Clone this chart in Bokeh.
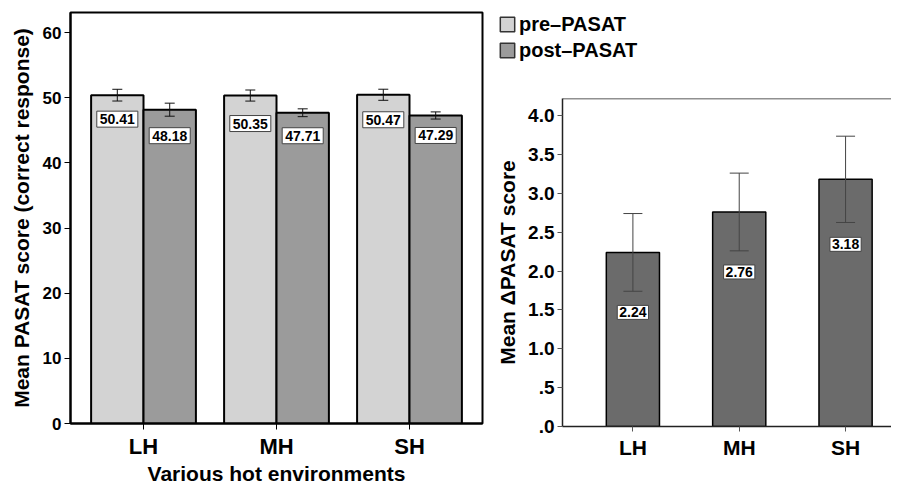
import numpy as np
from bokeh.plotting import figure
from bokeh.models import (ColumnDataSource, Range1d, FixedTicker, Whisker, TeeHead,
                          Legend, LegendItem, Span)
from bokeh.core.properties import value
from bokeh.layouts import row, column
from bokeh.embed import file_html
from bokeh.resources import INLINE

# ---------------- data ----------------
categories = ["LH", "MH", "SH"]
pre_mean = [50.41, 50.35, 50.47]
pre_err = [0.90, 0.85, 0.85]
post_mean = [48.18, 47.71, 47.29]
post_err = [1.00, 0.60, 0.55]
delta_mean = [2.24, 2.76, 3.18]
delta_err = [0.50, 0.50, 0.555]
left_ticks = [0, 10, 20, 30, 40, 50, 60]
right_ticks = [0.0, 0.5, 1.0, 1.5, 2.0, 2.5, 3.0, 3.5, 4.0]
right_tick_labels = [".0", ".5", "1.0", "1.5", "2.0", "2.5", "3.0", "3.5", "4.0"]
series_names = ["pre\u2013PASAT", "post\u2013PASAT"]

# ---------------- styles ----------------
FONT = "Liberation Sans"
PRE_COLOR = "#d3d3d3"
POST_COLOR = "#9b9b9b"
DELTA_COLOR = "#6b6b6b"
pre_label_dy = [24, 28, 25]      # px below bar top (label centre)
post_label_dy = [26, 23, 20]
delta_label_dy = [60, 60, 65]
DODGE = 0.197
BAR_W = 0.394

xpos = np.arange(1, len(categories) + 1)


def style_axis(ax, line_w, line_c, tick_out, tick_c):
    ax.axis_line_width = line_w
    ax.axis_line_color = line_c
    ax.major_tick_in = 0
    ax.major_tick_out = tick_out
    ax.major_tick_line_color = tick_c
    ax.major_tick_line_width = 1
    ax.minor_tick_line_color = None
    ax.major_label_text_font = FONT
    ax.major_label_text_font_style = "bold"
    ax.major_label_text_color = "black"
    ax.axis_label_text_font = FONT
    ax.axis_label_text_font_style = "bold"
    ax.axis_label_text_color = "black"


# ---------------- left chart ----------------
p1 = figure(width=484, height=487, output_backend="svg", toolbar_location=None,
            x_range=Range1d(0.451, 3.549), y_range=Range1d(0, 63.1),
            min_border_left=70, min_border_right=2, min_border_top=12, min_border_bottom=62)
p1.grid.visible = False
p1.outline_line_color = "black"
p1.outline_line_width = 2

pre_src = ColumnDataSource(dict(
    x=xpos - DODGE, top=pre_mean,
    upper=[m + e for m, e in zip(pre_mean, pre_err)],
    lower=[m - e for m, e in zip(pre_mean, pre_err)],
    text=["%.2f" % v for v in pre_mean], dy=pre_label_dy))
post_src = ColumnDataSource(dict(
    x=xpos + DODGE, top=post_mean,
    upper=[m + e for m, e in zip(post_mean, post_err)],
    lower=[m - e for m, e in zip(post_mean, post_err)],
    text=["%.2f" % v for v in post_mean], dy=post_label_dy))

p1.vbar(x="x", top="top", width=BAR_W, source=pre_src,
        fill_color=PRE_COLOR, line_color="black", line_width=2)
p1.vbar(x="x", top="top", width=BAR_W, source=post_src,
        fill_color=POST_COLOR, line_color="black", line_width=2)

for src in (pre_src, post_src):
    p1.add_layout(Whisker(base="x", upper="upper", lower="lower", source=src, level="overlay",
                          line_color="#111111", line_width=1,
                          upper_head=TeeHead(size=10, line_color="#111111", line_width=1),
                          lower_head=TeeHead(size=10, line_color="#111111", line_width=1)))
    p1.text(x="x", y="top", text="text", y_offset="dy", source=src, level="overlay",
            text_align="center", text_baseline="middle",
            text_font=value(FONT), text_font_size="14px", text_font_style="bold",
            text_color="black", background_fill_color="white",
            border_line_color="#444444", border_line_width=1, padding=3)

p1.xaxis.ticker = FixedTicker(ticks=list(xpos))
p1.xaxis.major_label_overrides = {int(i): c for i, c in zip(xpos, categories)}
p1.yaxis.ticker = FixedTicker(ticks=left_ticks)
style_axis(p1.xaxis[0], 2, "black", 6, "black")
style_axis(p1.yaxis[0], 2, "black", 6, "black")
p1.xaxis.major_label_text_font_size = "22px"
p1.xaxis.major_label_standoff = 4
p1.xaxis.axis_label = "Various hot environments"
p1.xaxis.axis_label_text_font_size = "21px"
p1.xaxis.axis_label_standoff = 0
p1.yaxis.major_label_text_font_size = "17px"
p1.yaxis.major_label_standoff = 3
p1.yaxis.axis_label = "Mean PASAT score (correct response)"
p1.yaxis.axis_label_text_font_size = "21px"
p1.yaxis.axis_label_standoff = 7

# ---------------- legend panel ----------------
leg = figure(width=407, height=70, output_backend="svg", toolbar_location=None,
             x_axis_location=None, y_axis_location=None,
             x_range=Range1d(0, 1), y_range=Range1d(0, 1),
             min_border_left=14, min_border_top=12, min_border_right=0, min_border_bottom=0)
leg.grid.visible = False
leg.outline_line_color = None
leg_pre = leg.vbar(x="x", top="top", width=BAR_W, source=pre_src, visible=False,
                   fill_color=PRE_COLOR, line_color="#333333", line_width=1.5)
leg_post = leg.vbar(x="x", top="top", width=BAR_W, source=post_src, visible=False,
                    fill_color=POST_COLOR, line_color="#333333", line_width=1.5)
legend = Legend(items=[LegendItem(label=series_names[0], renderers=[leg_pre]),
                       LegendItem(label=series_names[1], renderers=[leg_post])],
                location="top_left", margin=0, padding=0, spacing=2,
                glyph_width=18, glyph_height=18, label_height=24, label_standoff=3,
                label_text_font=FONT, label_text_font_style="bold",
                label_text_font_size="20px", label_text_color="black",
                background_fill_alpha=0, border_line_color=None)
leg.add_layout(legend)

# ---------------- right chart ----------------
p2 = figure(width=407, height=417, output_backend="svg", toolbar_location=None,
            x_range=Range1d(0.338, 3.432), y_range=Range1d(0, 4.22),
            min_border_left=78, min_border_right=0, min_border_top=28, min_border_bottom=61)
p2.grid.visible = False
p2.outline_line_color = None

d_src = ColumnDataSource(dict(
    x=xpos, top=delta_mean,
    upper=[m + e for m, e in zip(delta_mean, delta_err)],
    lower=[m - e for m, e in zip(delta_mean, delta_err)],
    text=["%.2f" % v for v in delta_mean], dy=delta_label_dy))
p2.vbar(x="x", top="top", width=0.50, source=d_src,
        fill_color=DELTA_COLOR, line_color="black", line_width=1.5)
p2.add_layout(Whisker(base="x", upper="upper", lower="lower", source=d_src, level="overlay",
                      line_color="#444444", line_width=1,
                      upper_head=TeeHead(size=19, line_color="#444444", line_width=1),
                      lower_head=TeeHead(size=19, line_color="#444444", line_width=1)))
p2.text(x="x", y="top", text="text", y_offset="dy", source=d_src, level="overlay",
        text_align="center", text_baseline="middle",
        text_font=value(FONT), text_font_size="14px", text_font_style="bold",
        text_color="black", background_fill_color="white",
        border_line_color="#444444", border_line_width=1, padding=2)

# top frame line (right side of the frame is cut off in the original)
p2.add_layout(Span(location=4.22, dimension="width", line_color="#222222", line_width=1.5))

p2.xaxis.ticker = FixedTicker(ticks=list(xpos))
p2.xaxis.major_label_overrides = {int(i): c for i, c in zip(xpos, categories)}
p2.yaxis.ticker = FixedTicker(ticks=right_ticks)
p2.yaxis.major_label_overrides = {t: l for t, l in zip(right_ticks, right_tick_labels)}
style_axis(p2.xaxis[0], 1.5, "#222222", 5, "#555555")
style_axis(p2.yaxis[0], 1.5, "#222222", 5, "#555555")
p2.xaxis.major_label_text_font_size = "21px"
p2.xaxis.major_label_standoff = 4
p2.yaxis.major_label_text_font_size = "19px"
p2.yaxis.major_label_standoff = 3
p2.yaxis.axis_label = "Mean \u0394PASAT score"
p2.yaxis.axis_label_text_font_size = "21px"
p2.yaxis.axis_label_standoff = 6

layout = row(p1, column(row(leg), row(p2), spacing=0), spacing=0)
open("out.html", "w").write(file_html(layout, INLINE))
